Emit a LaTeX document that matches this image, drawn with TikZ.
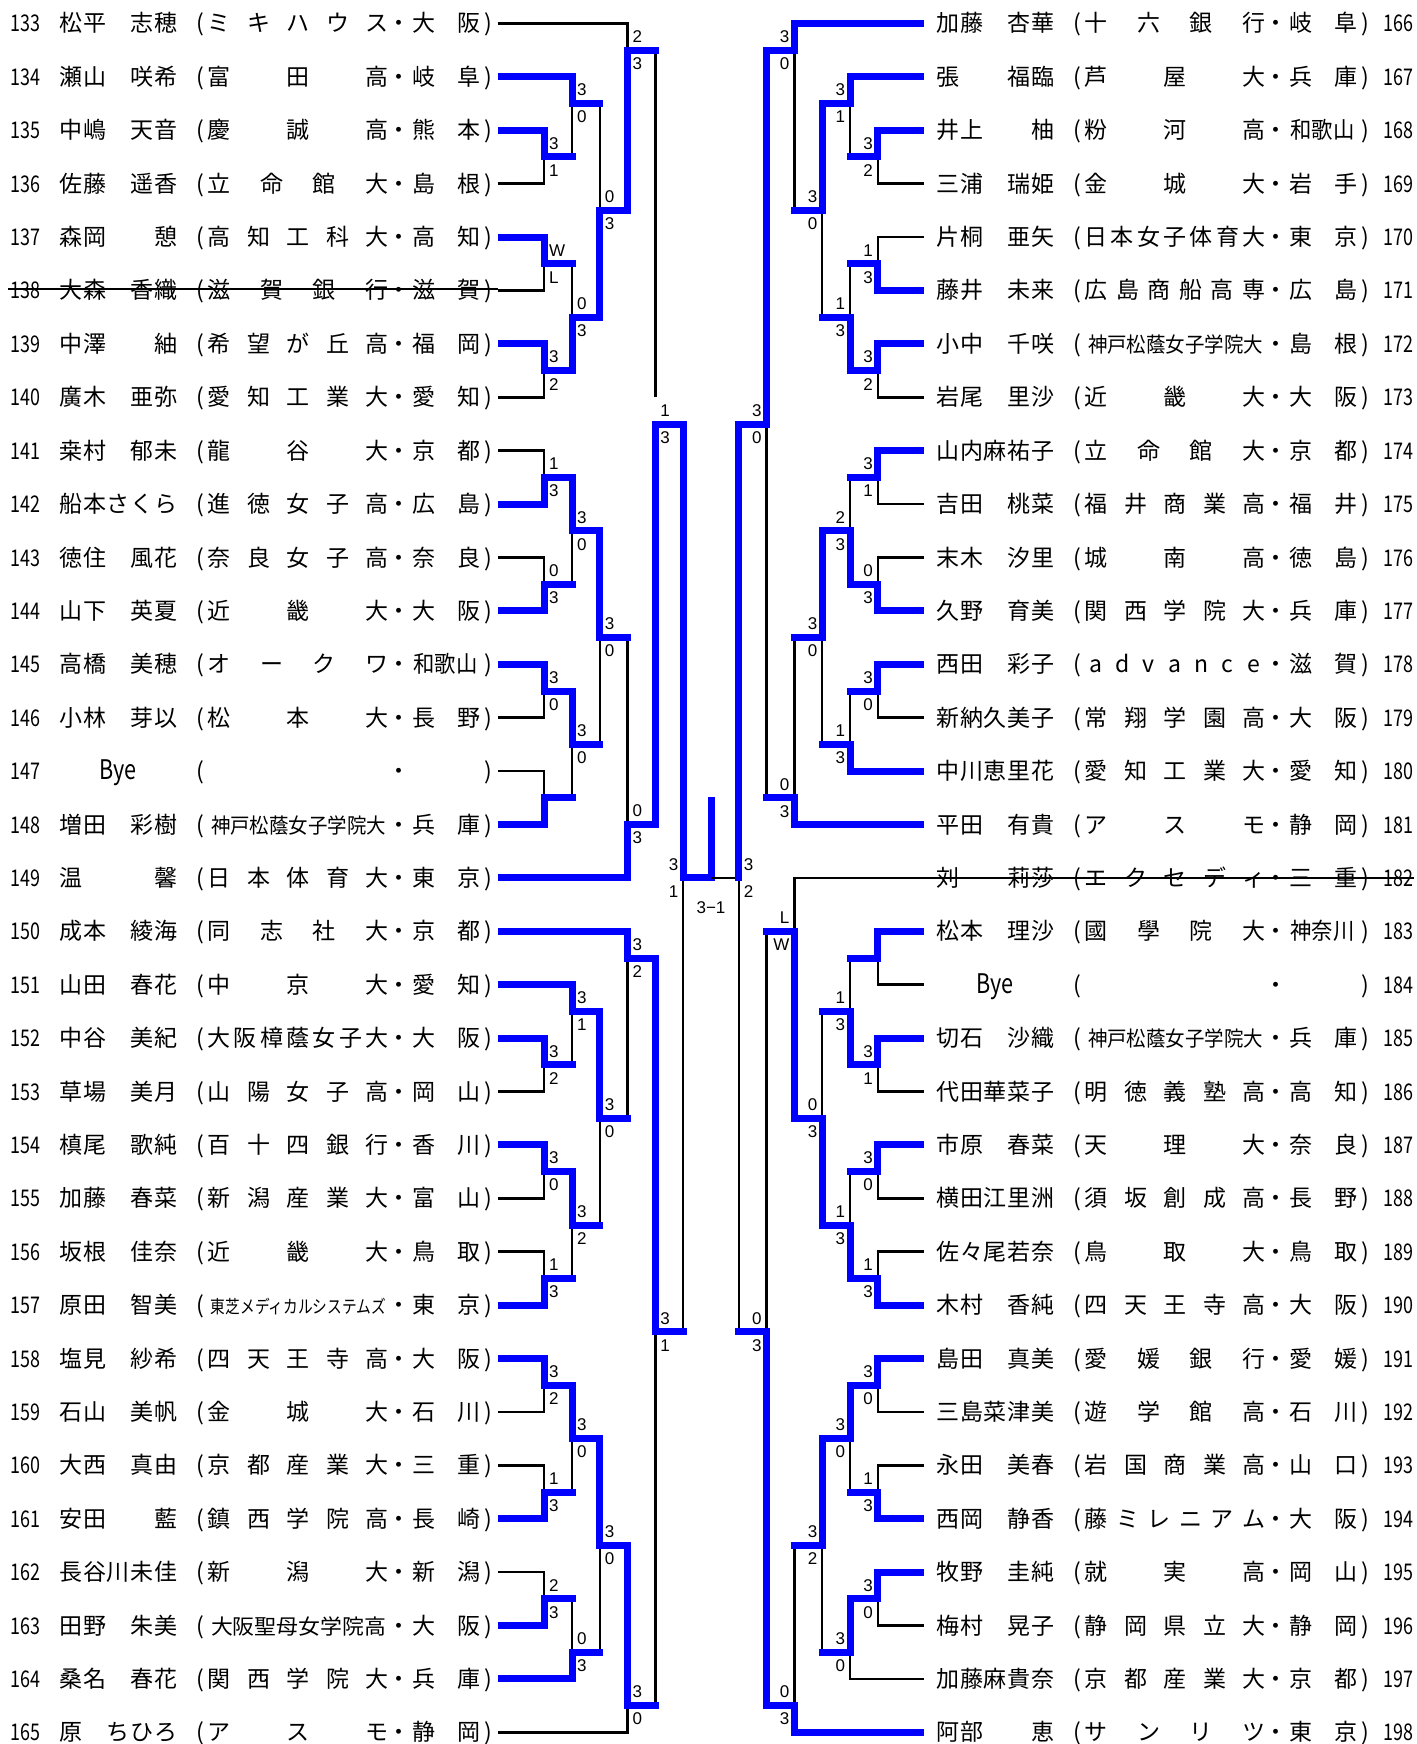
\documentclass[tikz,border=0pt]{standalone}
\usepackage{fontspec}
\usepackage{graphicx}
\setmainfont{Noto Sans CJK JP}
\newfontfamily\labfont{Liberation Sans}
\definecolor{winblue}{RGB}{0,0,255}
\tikzset{
  tx/.style={inner sep=0pt, outer sep=0pt, text height=8.75pt, text depth=0.25pt, font=\fontsize{11.5}{12}\selectfont},
  sc/.style={inner sep=0pt, outer sep=0pt, font=\labfont\fontsize{8.5}{8.5}\selectfont},
  lose/.style={line width=1.25pt, line join=miter, line cap=butt, draw=black},
  win/.style={line width=3.5pt, line join=miter, line cap=rect, draw=winblue},
}
\newcommand\TMS{\fontsize{9}{9}\selectfont 東芝メディカルシステムズ}
\ExplSyntaxOn
\tl_new:N \l_jk_x_tl
\tl_new:N \l_jk_y_tl
\int_new:N \l_jk_n_int
\int_new:N \l_jk_m_int
\cs_new_protected:Npn \jk_at:nn #1#2
  {
    \tl_set:Nx \l_jk_x_tl { \fp_eval:n {#1} }
    \node[tx]~at~(\l_jk_x_tl,\l_jk_y_tl)~{#2};
  }
\NewDocumentCommand \Entry { m m m m m m m m }
  {
    \tl_set:Nx \l_jk_y_tl { \fp_eval:n { 23.5 + 53.4 * (#3) } }
    \jk_at:nn {#2} { \scalebox{0.78}[1]{#4} }
    \int_set:Nn \l_jk_n_int { \tl_count:n {#5} }
    \int_step_inline:nn { \l_jk_n_int }
      { \jk_at:nn { #1 + 71 + 23.7 * (##1 - 1) } { \tl_item:nn {#5} {##1} } }
    \int_set:Nn \l_jk_m_int { \tl_count:n {#6} }
    \int_step_inline:nn { \l_jk_m_int }
      { \jk_at:nn { #1 + 71 + 23.7 * (5 - \l_jk_m_int + ##1 - 1) } { \tl_item:nn {#6} {##1} } }
    \jk_at:nn { #1 + 200 } { ( }
    \int_set:Nn \l_jk_n_int { \tl_count:n {#7} }
    \bool_if:nTF { \int_compare_p:nNn { \l_jk_n_int } > { 7 } || \int_compare_p:nNn { \l_jk_n_int } = { 1 } }
      { \jk_at:nn { #1 + 298.5 } { \resizebox{87.5pt}{\height}{\fontsize{10.5}{11}\selectfont #7} } }
      {
        \int_compare:nNnT { \l_jk_n_int } > { 1 }
          {
            \int_step_inline:nn { \l_jk_n_int }
              { \jk_at:nn { #1 + 219 + 158 * (##1 - 1) / (\l_jk_n_int - 1) } { \tl_item:nn {#7} {##1} } }
          }
      }
    \jk_at:nn { #1 + 399 } { ・ }
    \int_set:Nn \l_jk_n_int { \tl_count:n {#8} }
    \int_compare:nNnT { \l_jk_n_int } = { 2 }
      {
        \jk_at:nn { #1 + 424 } { \tl_item:nn {#8} {1} }
        \jk_at:nn { #1 + 469 } { \tl_item:nn {#8} {2} }
      }
    \int_compare:nNnT { \l_jk_n_int } = { 3 }
      { \jk_at:nn { #1 + 445.5 } { \resizebox{32pt}{\height}{#8} } }
    \jk_at:nn { #1 + 488 } { ) }
  }
\NewDocumentCommand \ByeEntry { m m m m }
  {
    \tl_set:Nx \l_jk_y_tl { \fp_eval:n { 23.5 + 53.4 * (#3) } }
    \jk_at:nn {#2} { \scalebox{0.78}[1]{#4} }
    \jk_at:nn { #1 + 118 } { \scalebox{0.8}[1]{\fontsize{13.5}{14}\selectfont Bye} }
    \jk_at:nn { #1 + 200 } { ( }
    \jk_at:nn { #1 + 399 } { ・ }
    \jk_at:nn { #1 + 488 } { ) }
  }
\ExplSyntaxOff
\begin{document}
\begin{tikzpicture}[x=0.5pt,y=-0.5pt]
\fill[white] (0,0) rectangle (1417,1744);
\useasboundingbox (0,0) rectangle (1417,1744);

% ---------------- left bracket ----------------
\begin{scope}[xshift=355.5pt, yshift=-11.75pt, x={(-13.9pt,0pt)}, y={(0pt,-26.7pt)}]
  \foreach \xa/\ya/\xu/\yb/\xb in {
    7.662/2/6/3/7.662, 7.662/1/5/2.5/6, 7.662/4/6/5/7.662, 7.662/6/6/7/7.662,
    6/4.5/5/6.5/6, 5/1.5/4/5.5/5, 7.662/0/3/3.5/4,
    7.662/8/6/9/7.662, 7.662/10/6/11/7.662, 6/8.5/5/10.5/6,
    7.662/12/6/13/7.662, 7.662/14/6/15/7.662, 6/12.5/5/14.5/6,
    5/9.5/4/13.5/5, 4/11.5/3/16/7.662, 2/7.5/1/24.5/2,
    7.662/19/6/20/7.662, 7.662/18/5/19.5/6, 7.662/21/6/22/7.662, 7.662/23/6/24/7.662,
    6/21.5/5/23.5/6, 5/18.5/4/22.5/5, 7.662/17/3/20.5/4,
    7.662/25/6/26/7.662, 7.662/27/6/28/7.662, 6/25.5/5/27.5/6,
    7.662/29/6/30/7.662, 6/29.5/5/31/7.662, 5/26.5/4/30.5/5,
    4/28.5/3/32/7.662, 3/17.5/2/31.5/3}
  { \draw[lose] (\xa,\ya) -- (\xu,\ya) -- (\xu,\yb) -- (\xb,\yb); }
  \draw[lose] (3,0.5) -- (2,0.5) -- (2,7.0);
  \draw[lose] (3,15) -- (2,15) -- (2,7.5);
  \draw[lose] (1,16) -- (0,16);
  % winners
  \draw[win] (7.536,2) -- (6,2) -- (6,2.5) -- (5,2.5);
  \draw[win] (7.536,1) -- (5,1) -- (5,1.5) -- (4,1.5);
  \draw[win] (7.536,4) -- (6,4) -- (6,4.5) -- (5,4.5);
  \draw[win] (7.536,6) -- (6,6) -- (6,6.5) -- (5,6.5) -- (5,5.5) -- (4,5.5) -- (4,3.5) -- (3,3.5) -- (3,0.5) -- (2,0.5);
  \draw[win] (7.536,9) -- (6,9) -- (6,8.5) -- (5,8.5) -- (5,9.5) -- (4,9.5) -- (4,11.5) -- (3,11.5);
  \draw[win] (7.536,11) -- (6,11) -- (6,10.5) -- (5,10.5);
  \draw[win] (7.536,12) -- (6,12) -- (6,12.5) -- (5,12.5) -- (5,13.5) -- (4,13.5);
  \draw[win] (7.536,15) -- (6,15) -- (6,14.5) -- (5,14.5);
  \draw[win] (7.536,16) -- (3,16) -- (3,15) -- (2,15) -- (2,7.5) -- (1,7.5) -- (1,16) -- (0,16) -- (0,14.55);
  \draw[win] (7.536,17) -- (3,17) -- (3,17.5) -- (2,17.5) -- (2,24.5) -- (1,24.5);
  \draw[win] (7.536,18) -- (5,18) -- (5,18.5) -- (4,18.5) -- (4,20.5) -- (3,20.5);
  \draw[win] (7.536,19) -- (6,19) -- (6,19.5) -- (5,19.5);
  \draw[win] (7.536,21) -- (6,21) -- (6,21.5) -- (5,21.5) -- (5,22.5) -- (4,22.5);
  \draw[win] (7.536,24) -- (6,24) -- (6,23.5) -- (5,23.5);
  \draw[win] (7.536,25) -- (6,25) -- (6,25.5) -- (5,25.5) -- (5,26.5) -- (4,26.5) -- (4,28.5) -- (3,28.5) -- (3,31.5) -- (2,31.5);
  \draw[win] (7.536,28) -- (6,28) -- (6,27.5) -- (5,27.5);
  \draw[win] (7.536,30) -- (6,30) -- (6,29.5) -- (5,29.5);
  \draw[win] (7.536,31) -- (5,31) -- (5,30.5) -- (4,30.5);
  % scores
  \foreach \lu/\lr/\la/\lb in {6/2.5/3/1, 5/1.5/3/0, 6/4.5/W/L, 6/6.5/3/2, 5/5.5/0/3, 4/3.5/0/3,
     3/0.5/2/3, 6/8.5/1/3, 6/10.5/0/3, 5/9.5/3/0, 6/12.5/3/0, 5/13.5/3/0, 4/11.5/3/0,
     3/15/0/3, 2/7.5/1/3, 6/19.5/3/2, 5/18.5/3/1, 6/21.5/3/0, 6/23.5/1/3, 5/22.5/3/2,
     4/20.5/3/0, 3/17.5/3/2, 6/25.5/3/2, 6/27.5/1/3, 5/26.5/3/0, 6/29.5/2/3, 5/30.5/0/3,
     4/28.5/3/0, 3/31.5/3/0, 2/24.5/3/1}
  { \node[sc,anchor=west] at (\lu-0.18,\lr-0.253) {\la};
    \node[sc,anchor=west] at (\lu-0.18,\lr+0.253) {\lb}; }
  \node[sc,anchor=east] at (1.18,15.747) {3};
  \node[sc,anchor=east] at (1.18,16.253) {1};
  \node[sc] at (0,16.55) {3−1};
\end{scope}

% ---------------- right bracket ----------------
\begin{scope}[xshift=355.5pt, yshift=-11.75pt, x={(13.9pt,0pt)}, y={(0pt,-26.7pt)}]
  \foreach \xa/\ya/\xu/\yb/\xb in {
    7.662/2/6/3/7.662, 7.662/1/5/2.5/6, 7.662/4/6/5/7.662, 7.662/6/6/7/7.662,
    6/4.5/5/6.5/6, 5/1.5/4/5.5/5, 7.662/0/3/3.5/4,
    7.662/8/6/9/7.662, 7.662/10/6/11/7.662, 6/8.5/5/10.5/6,
    7.662/12/6/13/7.662, 6/12.5/5/14/7.662, 5/9.5/4/13.5/5,
    4/11.5/3/15/7.662, 3/0.5/2/14.5/3, 2/7.5/1/24.5/2,
    7.662/17/6/18/7.662, 7.662/19/6/20/7.662, 6/17.5/5/19.5/6,
    7.662/21/6/22/7.662, 7.662/23/6/24/7.662, 6/21.5/5/23.5/6,
    5/18.5/4/22.5/5, 7.662/16/3/20.5/4,
    7.662/25/6/26/7.662, 7.662/27/6/28/7.662, 6/25.5/5/27.5/6,
    7.662/29/6/30/7.662, 6/29.5/5/31/7.662, 5/26.5/4/30.5/5,
    4/28.5/3/32/7.662, 3/17/2/31.5/3}
  { \draw[lose] (\xa,\ya) -- (\xu,\ya) -- (\xu,\yb) -- (\xb,\yb); }
  \draw[lose] (1,16) -- (0,16);
  % winners
  \draw[win] (7.536,2) -- (6,2) -- (6,2.5) -- (5,2.5);
  \draw[win] (7.536,1) -- (5,1) -- (5,1.5) -- (4,1.5) -- (4,3.5) -- (3,3.5);
  \draw[win] (7.536,5) -- (6,5) -- (6,4.5) -- (5,4.5);
  \draw[win] (7.536,6) -- (6,6) -- (6,6.5) -- (5,6.5) -- (5,5.5) -- (4,5.5);
  \draw[win] (7.536,0) -- (3,0) -- (3,0.5) -- (2,0.5) -- (2,7.5) -- (1,7.5) -- (1,16);
  \draw[win] (7.536,8) -- (6,8) -- (6,8.5) -- (5,8.5);
  \draw[win] (7.536,11) -- (6,11) -- (6,10.5) -- (5,10.5) -- (5,9.5) -- (4,9.5) -- (4,11.5) -- (3,11.5);
  \draw[win] (7.536,12) -- (6,12) -- (6,12.5) -- (5,12.5);
  \draw[win] (7.536,14) -- (5,14) -- (5,13.5) -- (4,13.5);
  \draw[win] (7.536,15) -- (3,15) -- (3,14.5) -- (2,14.5);
  \draw[win] (7.536,17) -- (6,17) -- (6,17.5) -- (5,17.5);
  \draw[win] (7.536,19) -- (6,19) -- (6,19.5) -- (5,19.5) -- (5,18.5) -- (4,18.5);
  \draw[win] (7.536,21) -- (6,21) -- (6,21.5) -- (5,21.5);
  \draw[win] (7.536,24) -- (6,24) -- (6,23.5) -- (5,23.5) -- (5,22.5) -- (4,22.5) -- (4,20.5) -- (3,20.5) -- (3,17) -- (2,17);
  \draw[win] (7.536,25) -- (6,25) -- (6,25.5) -- (5,25.5) -- (5,26.5) -- (4,26.5) -- (4,28.5) -- (3,28.5);
  \draw[win] (7.536,28) -- (6,28) -- (6,27.5) -- (5,27.5);
  \draw[win] (7.536,29) -- (6,29) -- (6,29.5) -- (5,29.5) -- (5,30.5) -- (4,30.5);
  \draw[win] (7.536,32) -- (3,32) -- (3,31.5) -- (2,31.5) -- (2,24.5) -- (1,24.5);
  % scores
  \foreach \lu/\lr/\la/\lb in {6/2.5/3/2, 5/1.5/3/1, 6/4.5/1/3, 6/6.5/3/2, 5/5.5/1/3, 4/3.5/3/0,
     3/0.5/3/0, 6/8.5/3/1, 6/10.5/0/3, 5/9.5/2/3, 6/12.5/3/0, 5/13.5/1/3, 4/11.5/3/0,
     3/14.5/0/3, 2/7.5/3/0, 6/19.5/3/1, 5/18.5/1/3, 6/21.5/3/0, 6/23.5/1/3, 5/22.5/1/3,
     4/20.5/0/3, 3/17/L/W, 6/25.5/3/0, 6/27.5/1/3, 5/26.5/3/0, 6/29.5/3/0, 5/30.5/3/0,
     4/28.5/3/2, 3/31.5/0/3, 2/24.5/0/3}
  { \node[sc,anchor=east] at (\lu-0.18,\lr-0.253) {\la};
    \node[sc,anchor=east] at (\lu-0.18,\lr+0.253) {\lb}; }
  \node[sc,anchor=west] at (1.18,15.747) {3};
  \node[sc,anchor=west] at (1.18,16.253) {2};
\end{scope}

% strike-through of withdrawn entries
\draw[lose] (8,289) -- (498,289);
\draw[lose] (924,877.9) -- (1414,877.9);

% ---------------- left entries ----------------
\Entry{0}{25.5}{0}{133}{松平}{志穂}{ミキハウス}{大阪}
\Entry{0}{25.5}{1}{134}{瀬山}{咲希}{富田高}{岐阜}
\Entry{0}{25.5}{2}{135}{中嶋}{天音}{慶誠高}{熊本}
\Entry{0}{25.5}{3}{136}{佐藤}{遥香}{立命館大}{島根}
\Entry{0}{25.5}{4}{137}{森岡}{憩}{高知工科大}{高知}
\Entry{0}{25.5}{5}{138}{大森}{香織}{滋賀銀行}{滋賀}
\Entry{0}{25.5}{6}{139}{中澤}{紬}{希望が丘高}{福岡}
\Entry{0}{25.5}{7}{140}{廣木}{亜弥}{愛知工業大}{愛知}
\Entry{0}{25.5}{8}{141}{桒村}{郁未}{龍谷大}{京都}
\Entry{0}{25.5}{9}{142}{船本}{さくら}{進徳女子高}{広島}
\Entry{0}{25.5}{10}{143}{徳住}{風花}{奈良女子高}{奈良}
\Entry{0}{25.5}{11}{144}{山下}{英夏}{近畿大}{大阪}
\Entry{0}{25.5}{12}{145}{高橋}{美穂}{オークワ}{和歌山}
\Entry{0}{25.5}{13}{146}{小林}{芽以}{松本大}{長野}
\ByeEntry{0}{25.5}{14}{147}
\Entry{0}{25.5}{15}{148}{増田}{彩樹}{神戸松蔭女子学院大}{兵庫}
\Entry{0}{25.5}{16}{149}{温}{馨}{日本体育大}{東京}
\Entry{0}{25.5}{17}{150}{成本}{綾海}{同志社大}{京都}
\Entry{0}{25.5}{18}{151}{山田}{春花}{中京大}{愛知}
\Entry{0}{25.5}{19}{152}{中谷}{美紀}{大阪樟蔭女子大}{大阪}
\Entry{0}{25.5}{20}{153}{草場}{美月}{山陽女子高}{岡山}
\Entry{0}{25.5}{21}{154}{槙尾}{歌純}{百十四銀行}{香川}
\Entry{0}{25.5}{22}{155}{加藤}{春菜}{新潟産業大}{富山}
\Entry{0}{25.5}{23}{156}{坂根}{佳奈}{近畿大}{鳥取}
\Entry{0}{25.5}{24}{157}{原田}{智美}{\TMS}{東京}
\Entry{0}{25.5}{25}{158}{塩見}{紗希}{四天王寺高}{大阪}
\Entry{0}{25.5}{26}{159}{石山}{美帆}{金城大}{石川}
\Entry{0}{25.5}{27}{160}{大西}{真由}{京都産業大}{三重}
\Entry{0}{25.5}{28}{161}{安田}{藍}{鎮西学院高}{長崎}
\Entry{0}{25.5}{29}{162}{長谷川}{未佳}{新潟大}{新潟}
\Entry{0}{25.5}{30}{163}{田野}{朱美}{大阪聖母女学院高}{大阪}
\Entry{0}{25.5}{31}{164}{桑名}{春花}{関西学院大}{兵庫}
\Entry{0}{25.5}{32}{165}{原}{ちひろ}{アスモ}{静岡}

% ---------------- right entries ----------------
\Entry{877}{1398.5}{0}{166}{加藤}{杏華}{十六銀行}{岐阜}
\Entry{877}{1398.5}{1}{167}{張}{福臨}{芦屋大}{兵庫}
\Entry{877}{1398.5}{2}{168}{井上}{柚}{粉河高}{和歌山}
\Entry{877}{1398.5}{3}{169}{三浦}{瑞姫}{金城大}{岩手}
\Entry{877}{1398.5}{4}{170}{片桐}{亜矢}{日本女子体育大}{東京}
\Entry{877}{1398.5}{5}{171}{藤井}{未来}{広島商船高専}{広島}
\Entry{877}{1398.5}{6}{172}{小中}{千咲}{神戸松蔭女子学院大}{島根}
\Entry{877}{1398.5}{7}{173}{岩尾}{里沙}{近畿大}{大阪}
\Entry{877}{1398.5}{8}{174}{山内}{麻祐子}{立命館大}{京都}
\Entry{877}{1398.5}{9}{175}{吉田}{桃菜}{福井商業高}{福井}
\Entry{877}{1398.5}{10}{176}{末木}{汐里}{城南高}{徳島}
\Entry{877}{1398.5}{11}{177}{久野}{育美}{関西学院大}{兵庫}
\Entry{877}{1398.5}{12}{178}{西田}{彩子}{advance}{滋賀}
\Entry{877}{1398.5}{13}{179}{新納}{久美子}{常翔学園高}{大阪}
\Entry{877}{1398.5}{14}{180}{中川}{恵里花}{愛知工業大}{愛知}
\Entry{877}{1398.5}{15}{181}{平田}{有貴}{アスモ}{静岡}
\Entry{877}{1398.5}{16}{182}{刘}{莉莎}{エクセディ}{三重}
\Entry{877}{1398.5}{17}{183}{松本}{理沙}{國學院大}{神奈川}
\ByeEntry{877}{1398.5}{18}{184}
\Entry{877}{1398.5}{19}{185}{切石}{沙織}{神戸松蔭女子学院大}{兵庫}
\Entry{877}{1398.5}{20}{186}{代田}{華菜子}{明徳義塾高}{高知}
\Entry{877}{1398.5}{21}{187}{市原}{春菜}{天理大}{奈良}
\Entry{877}{1398.5}{22}{188}{横田}{江里洲}{須坂創成高}{長野}
\Entry{877}{1398.5}{23}{189}{佐々尾}{若奈}{鳥取大}{鳥取}
\Entry{877}{1398.5}{24}{190}{木村}{香純}{四天王寺高}{大阪}
\Entry{877}{1398.5}{25}{191}{島田}{真美}{愛媛銀行}{愛媛}
\Entry{877}{1398.5}{26}{192}{三島}{菜津美}{遊学館高}{石川}
\Entry{877}{1398.5}{27}{193}{永田}{美春}{岩国商業高}{山口}
\Entry{877}{1398.5}{28}{194}{西岡}{静香}{藤ミレニアム}{大阪}
\Entry{877}{1398.5}{29}{195}{牧野}{圭純}{就実高}{岡山}
\Entry{877}{1398.5}{30}{196}{梅村}{晃子}{静岡県立大}{静岡}
\Entry{877}{1398.5}{31}{197}{加藤}{麻貴奈}{京都産業大}{京都}
\Entry{877}{1398.5}{32}{198}{阿部}{恵}{サンリツ}{東京}
\end{tikzpicture}
\end{document}
